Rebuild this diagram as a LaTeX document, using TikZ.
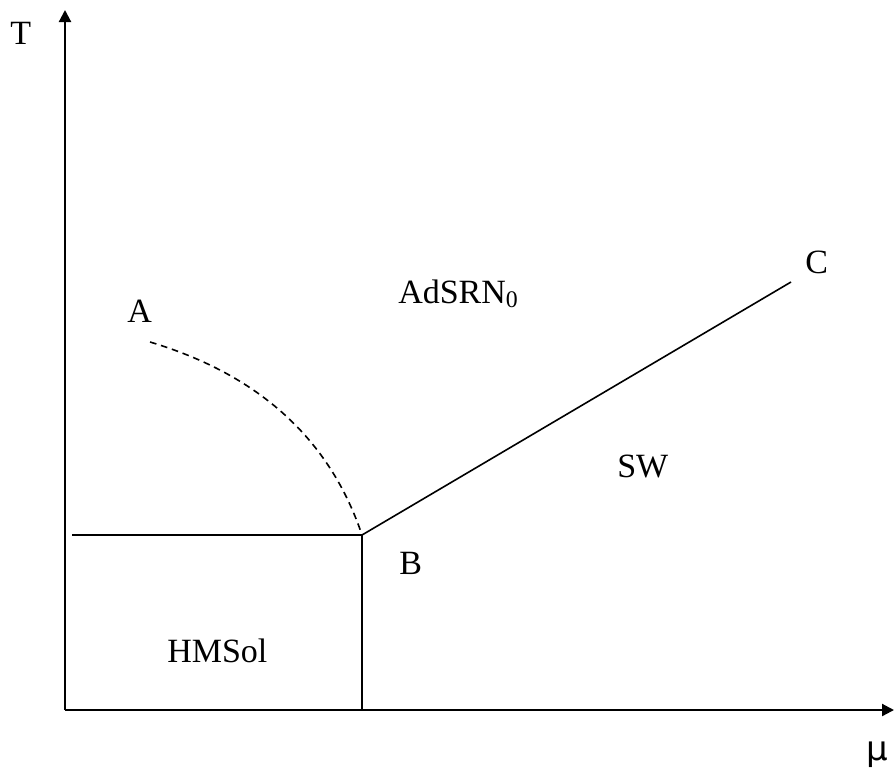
\documentclass[tikz,border=0pt]{standalone}
\usepackage{fontspec}
\setmainfont{Liberation Serif}
\newfontfamily\mufont{DejaVu Sans}
\usetikzlibrary{arrows.meta}
\begin{document}
\begin{tikzpicture}[
  x=0.75pt,y=-0.75pt,
  font=\fontsize{25.5}{30}\selectfont,
  lbl/.style={inner sep=0pt,anchor=base west},
  axis/.style={line width=1.6pt,-{Triangle[length=9pt,width=9pt]}},
  bnd/.style={line width=1.2pt},
  crit/.style={line width=1.2pt,dash pattern=on 5pt off 3.6pt}
]
\useasboundingbox (0,0) rectangle (895,776);
% points
\coordinate (O) at (65,710);
\coordinate (Ttop) at (65,10);
\coordinate (Mend) at (894,710);
\coordinate (L) at (72,535);
\coordinate (pB) at (362,535);
\coordinate (pBdown) at (362,710);
\coordinate (pA) at (150,342);
\coordinate (pC) at (791,282);
% axes
\draw[axis] (O) -- (Ttop);
\draw[axis] (O) -- (Mend);
\node[lbl] (T) at (10,44) {T};
\node[inner sep=0pt] (mu) at (877,755) {\mufont μ};
% phase boundaries
\draw[bnd] (L) -- (pB);
\draw[bnd] (pB) -- (pBdown);
\draw[bnd] (pB) -- (pC);
\draw[crit] (pA) .. controls (260,375) and (330,440) .. (pB);
% labels
\node[lbl] (A) at (127,322) {A};
\node[lbl] (B) at (399,574) {B};
\node[lbl] (C) at (805,273) {C};
\node[lbl] (ads) at (398,303) {AdSRN\textsubscript{0}};
\node[lbl] (sw) at (617,477) {SW};
\node[lbl] (hms) at (167,662) {HMSol};
\end{tikzpicture}
\end{document}
